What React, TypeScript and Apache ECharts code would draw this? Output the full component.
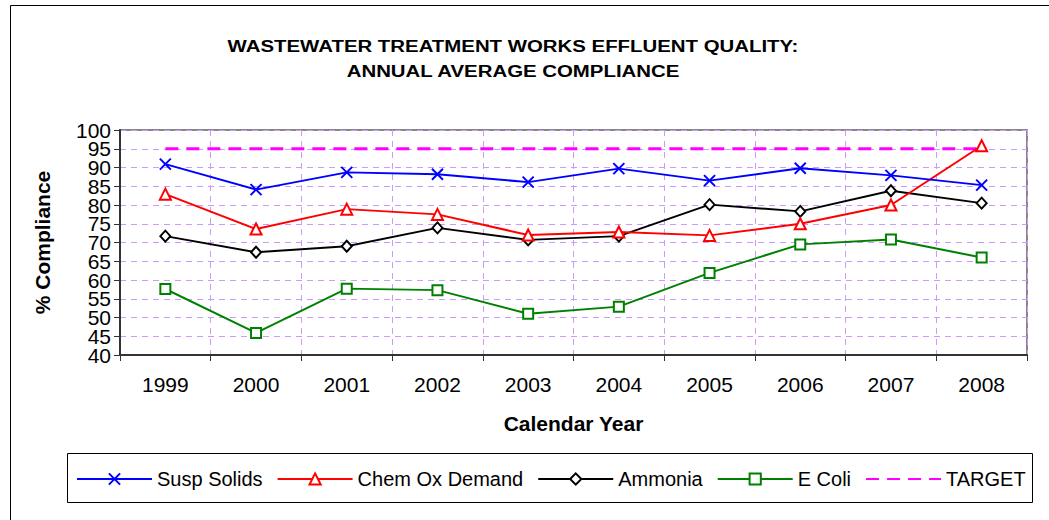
import React, { useEffect, useRef } from "react";
import * as echarts from "echarts";

const years = ["1999", "2000", "2001", "2002", "2003", "2004", "2005", "2006", "2007", "2008"];
const suspSolids = [90.9, 84.1, 88.7, 88.2, 86.1, 89.7, 86.5, 89.8, 87.9, 85.3];
const chemOxDemand = [82.9, 73.6, 78.9, 77.5, 72.0, 72.8, 71.9, 75.0, 80.0, 95.8];
const ammonia = [71.7, 67.4, 69.0, 73.9, 70.7, 71.7, 80.1, 78.3, 83.8, 80.5];
const eColi = [57.6, 45.9, 57.7, 57.3, 51.0, 52.9, 61.9, 69.5, 70.8, 66.0];
const target = [95, 95, 95, 95, 95, 95, 95, 95, 95, 95];

const titleLines = ["WASTEWATER TREATMENT WORKS EFFLUENT QUALITY:", "ANNUAL AVERAGE COMPLIANCE"];
const yMin = 40;
const yMax = 100;
const yStep = 5;
const yTickLabelsA = [40, 50, 60, 70, 80, 90, 100];
const yTickLabelsB = [45, 55, 65, 75, 85, 95];

const FONT = 'Arial, "Liberation Sans", sans-serif';
const GRID_COLOR = "#cc99ff";

export default function App() {
  const ref = useRef<HTMLDivElement>(null);

  useEffect(() => {
    if (!ref.current) return;
    const chart = echarts.init(ref.current, undefined, { renderer: "svg" });

    const markerStyle = (color: string) => ({
      color,
      borderColor: color,
      borderWidth: 2,
    });

    const yLabelStyle = {
      fontSize: 21,
      margin: 9,
      color: "#000",
      fontFamily: FONT,
      hideOverlap: false,
    };

    const option: any = {
      animation: false,
      backgroundColor: "#ffffff",
      textStyle: { fontFamily: FONT, color: "#000" },
      graphic: [
        {
          type: "rect",
          z: -10,
          shape: { x: 10.5, y: 5.5, width: 1200, height: 800 },
          style: { fill: "none", stroke: "#000", lineWidth: 1 },
          silent: true,
        },
        {
          type: "rect",
          z: -10,
          shape: { x: 67.5, y: 453.5, width: 965, height: 49 },
          style: { fill: "none", stroke: "#000", lineWidth: 1 },
          silent: true,
        },
        {
          type: "text",
          x: 513,
          y: 46,
          scaleX: 1.2,
          style: {
            text: titleLines[0],
            fill: "#000",
            font: `bold 17px ${FONT}`,
            textAlign: "center",
            textVerticalAlign: "middle",
          },
        },
        {
          type: "text",
          x: 513,
          y: 71.5,
          scaleX: 1.2,
          style: {
            text: titleLines[1],
            fill: "#000",
            font: `bold 17px ${FONT}`,
            textAlign: "center",
            textVerticalAlign: "middle",
          },
        },
      ],
      grid: {
        left: 120,
        right: 22,
        top: 130,
        bottom: 165,
        show: true,
        borderColor: "#888888",
        borderWidth: 2,
        backgroundColor: "transparent",
      },
      legend: {
        left: 76,
        top: 469,
        padding: 0,
        itemGap: 14,
        itemWidth: 75,
        itemHeight: 14,
        textStyle: { fontSize: 20, fontFamily: FONT, color: "#000" },
        data: [
          "Susp Solids",
          "Chem Ox Demand",
          "Ammonia",
          "E Coli",
          { name: "TARGET", itemStyle: { opacity: 0 } },
        ],
      },
      xAxis: {
        type: "category",
        data: years,
        boundaryGap: true,
        name: "Calendar Year",
        nameLocation: "middle",
        nameGap: 58,
        nameTextStyle: { fontSize: 21, fontWeight: "bold", fontFamily: FONT, color: "#000" },
        axisLine: { show: true, lineStyle: { color: "#333", width: 2 } },
        axisTick: { show: true, inside: false, length: 6, interval: 0, lineStyle: { color: "#333", width: 1 } },
        axisLabel: { fontSize: 21, margin: 19, color: "#000", fontFamily: FONT, interval: 0 },
        splitLine: { show: true, interval: 0, lineStyle: { color: GRID_COLOR, type: [6, 5], width: 1 } },
      },
      yAxis: [
        {
          type: "value",
          min: yMin,
          max: yMax,
          interval: yStep,
          position: "left",
          name: "% Compliance",
          nameLocation: "middle",
          nameGap: 67,
          nameTextStyle: { fontSize: 21, fontWeight: "bold", fontFamily: FONT, color: "#000" },
          axisLine: { show: true, lineStyle: { color: "#333", width: 2 } },
          axisTick: { show: true, inside: false, length: 6, lineStyle: { color: "#333", width: 1 } },
          axisLabel: { ...yLabelStyle, customValues: yTickLabelsA },
          splitLine: { show: true, lineStyle: { color: GRID_COLOR, type: [6, 5], width: 1 } },
        },
        {
          type: "value",
          min: yMin,
          max: yMax,
          interval: yStep,
          position: "left",
          offset: 0,
          axisLine: { show: false },
          axisTick: { show: false },
          axisLabel: { ...yLabelStyle, customValues: yTickLabelsB },
          splitLine: { show: false },
        },
      ],
      series: [
        {
          name: "TARGET",
          type: "line",
          data: target,
          symbol: "none",
          lineStyle: { color: "#ff00ff", width: 3, type: [13, 8] },
          itemStyle: { color: "#ff00ff" },
          z: 1,
        },
        {
          name: "E Coli",
          type: "line",
          data: eColi,
          symbol: "emptyRect",
          symbolSize: 10,
          lineStyle: { color: "#008000", width: 2 },
          itemStyle: markerStyle("#008000"),
          z: 2,
        },
        {
          name: "Ammonia",
          type: "line",
          data: ammonia,
          symbol: "emptyDiamond",
          symbolSize: [10, 11],
          lineStyle: { color: "#000000", width: 2 },
          itemStyle: markerStyle("#000000"),
          z: 3,
        },
        {
          name: "Chem Ox Demand",
          type: "line",
          data: chemOxDemand,
          symbol: "emptyTriangle",
          symbolSize: 11,
          lineStyle: { color: "#ff0000", width: 2 },
          itemStyle: markerStyle("#ff0000"),
          z: 4,
        },
        {
          name: "Susp Solids",
          type: "line",
          data: suspSolids,
          symbol: "path://M0,0L10,10M10,0L0,10",
          symbolSize: 11,
          lineStyle: { color: "#0000ff", width: 2 },
          itemStyle: markerStyle("#0000ff"),
          z: 5,
        },
      ],
    };

    chart.setOption(option);
    return () => {
      chart.dispose();
    };
  }, []);

  return (
    <div
      ref={ref}
      style={{ position: "absolute", left: 0, top: 0, width: 1049, height: 520, background: "#fff" }}
    />
  );
}
